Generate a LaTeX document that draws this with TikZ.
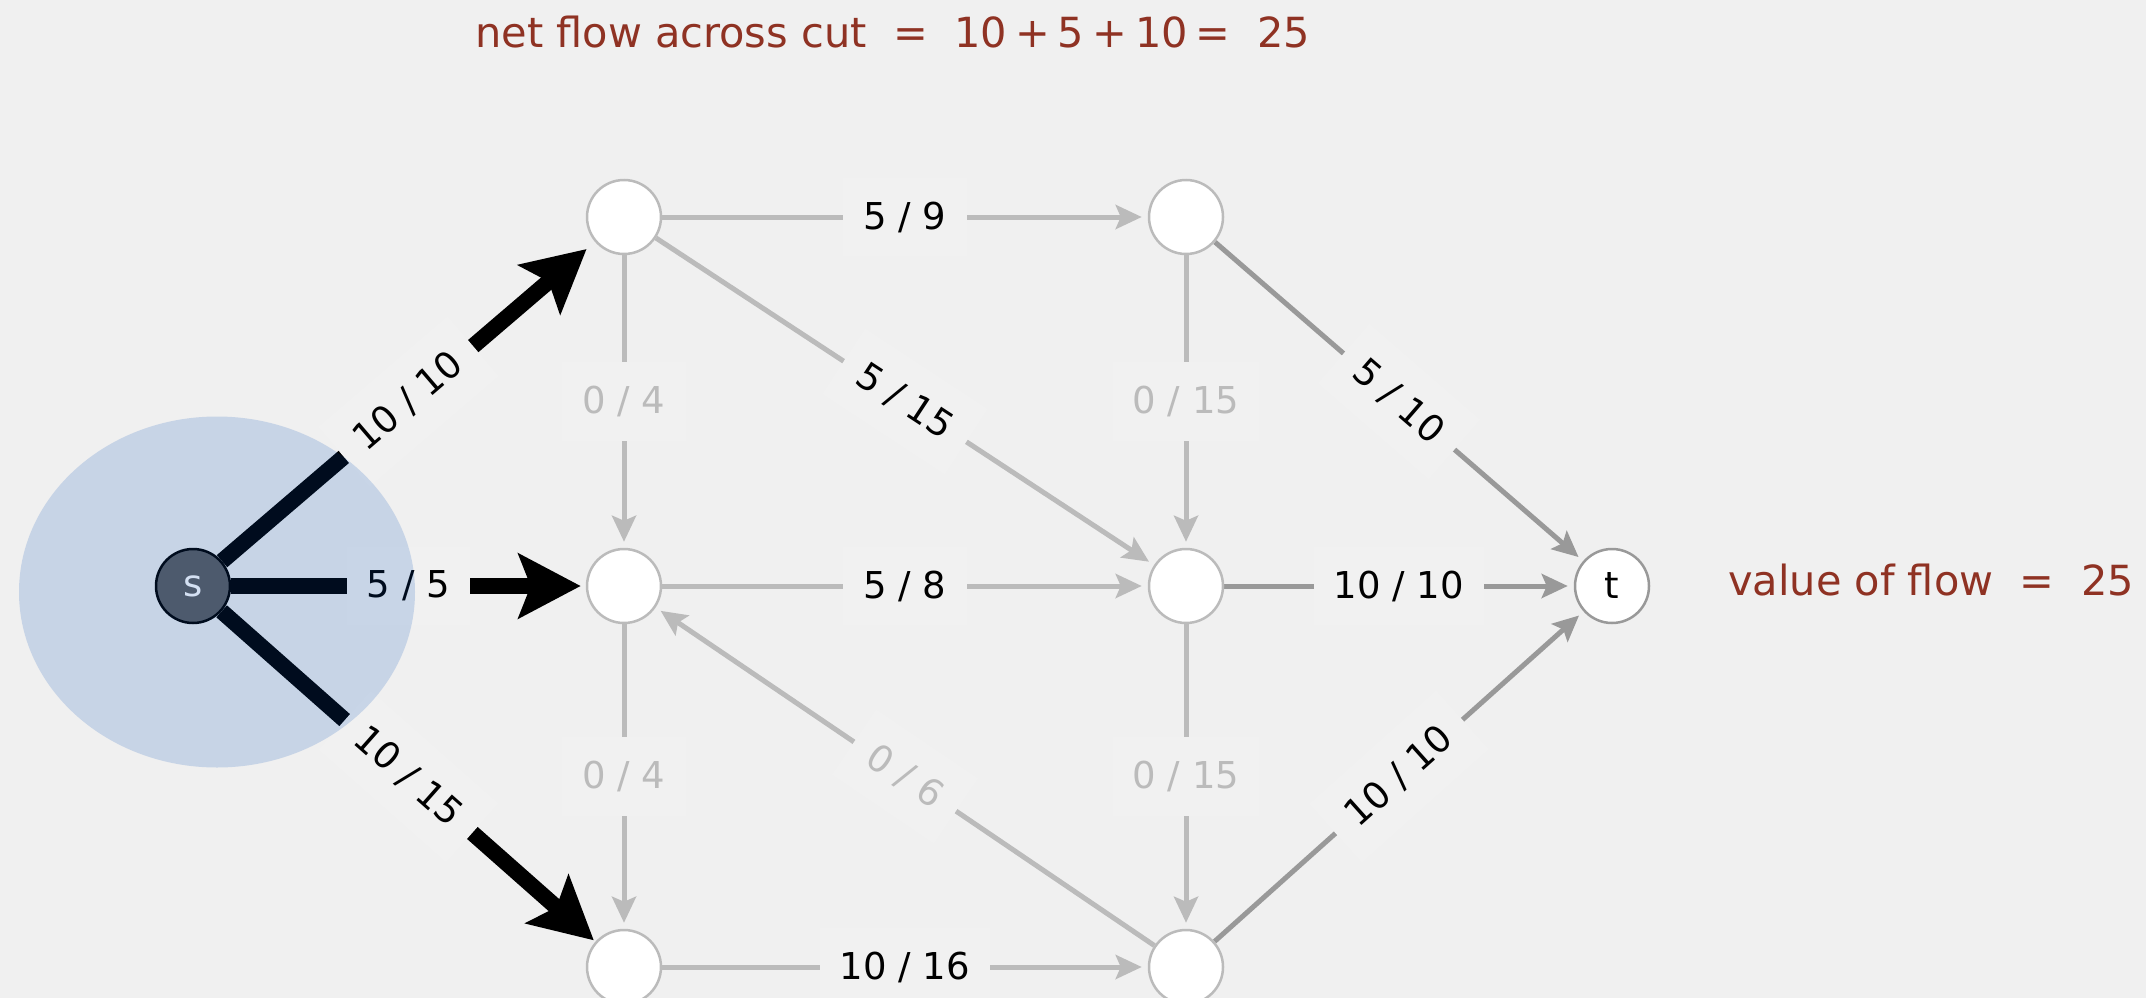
\documentclass[tikz,border=0pt]{standalone}
\usepackage{fontspec}
\setmainfont{DejaVu Sans}
\usetikzlibrary{arrows.meta}
\definecolor{bg}{HTML}{F0F0F0}
\definecolor{labbg}{HTML}{F1F1F1}
\definecolor{lgray}{HTML}{BBBBBB}
\definecolor{dgray}{HTML}{999999}
\definecolor{cutred}{RGB}{143,50,35}
\definecolor{cutblue}{RGB}{0,76,182}
\definecolor{sfill}{HTML}{5D5D5F}
\pgfdeclarelayer{bglayer}
\pgfdeclarelayer{edgelayer}
\pgfdeclarelayer{toplayer}
\pgfsetlayers{bglayer,edgelayer,main,toplayer}
\newcommand{\nsp}{\hspace{8pt}}
\begin{document}
\begin{tikzpicture}[x=1pt,y=-1pt,
  vert/.style={circle, minimum size=74pt, inner sep=0pt, draw=lgray, line width=2.5pt, fill=white, font=\fontsize{37}{44}\selectfont},
  lab/.style={fill=labbg, inner xsep=20pt, inner ysep=24pt, font=\fontsize{37}{44}\selectfont, midway},
  zerolab/.style={lab, text=lgray},
  fulllab/.style={lab, text=black},
  gedge/.style={draw=lgray, line width=5pt, -{Stealth[length=26pt,width=24pt,inset=5pt]}, shorten >=6pt},
  dedge/.style={gedge, draw=dgray},
  bedge/.style={draw=black, line width=16pt, -{Stealth[length=62pt,width=64pt,inset=12pt]}},
  redtext/.style={text=cutred, font=\fontsize{41.5}{50}\selectfont, inner sep=0pt, anchor=base west}
]
\begin{pgfonlayer}{bglayer}
\fill[bg] (0,0) rectangle (2146,998);
\end{pgfonlayer}
\useasboundingbox (0,0) rectangle (2146,998);

% vertices
\node[vert] (v1) at (624,217) {};
\node[vert] (v2) at (624,586) {};
\node[vert] (v5) at (624,967) {};
\node[vert] (v3) at (1186,217) {};
\node[vert] (v4) at (1186,586) {};
\node[vert] (v6) at (1186,967) {};
\node[vert, draw=dgray] (t) at (1612,586) {t};
\node[vert, fill=sfill, draw=black, text=white] (s) at (193,586) {s};

% edges
\begin{pgfonlayer}{edgelayer}
\draw[gedge] (v1) -- node[fulllab] {5 / 9} (v3);
\draw[gedge] (v1) -- node[zerolab] {0 / 4} (v2);
\draw[gedge] (v1) -- node[fulllab, sloped] {5 / 15} (v4);
\draw[gedge] (v3) -- node[zerolab] {0 / 15} (v4);
\draw[dedge] (v3) -- node[fulllab, sloped] {5 / 10} (t);
\draw[gedge] (v2) -- node[fulllab] {5 / 8} (v4);
\draw[dedge] (v4) -- node[fulllab] {10 / 10} (t);
\draw[gedge] (v2) -- node[zerolab] {0 / 4} (v5);
\draw[gedge] (v6) -- node[zerolab, sloped] {0 / 6} (v2);
\draw[gedge] (v4) -- node[zerolab] {0 / 15} (v6);
\draw[gedge] (v5) -- node[fulllab] {10 / 16} (v6);
\draw[dedge] (v6) -- node[fulllab, sloped] {10 / 10} (t);
\draw[bedge, shorten >=11pt] (s) -- node[fulllab, sloped] {10 / 10} (v1);
\draw[bedge, shorten >=5pt] (s) -- node[fulllab] {5 / 5} (v2);
\draw[bedge, shorten >=2pt] (s) -- node[fulllab, sloped] {10 / 15} (v5);
\end{pgfonlayer}

% cut overlay
\begin{pgfonlayer}{toplayer}
\fill[cutblue, fill opacity=0.17] (217,592) ellipse [x radius=198, y radius=175.5];
\end{pgfonlayer}

% texts
\node[redtext] (title) at (475,48) {net flow across cut\ \ =\ \ 10\nsp+\nsp5\nsp+\nsp10\nsp=\ \ 25};
\node[redtext] (value) at (1728,595) {value of flow\ \ =\ \ 25};
\end{tikzpicture}
\end{document}
